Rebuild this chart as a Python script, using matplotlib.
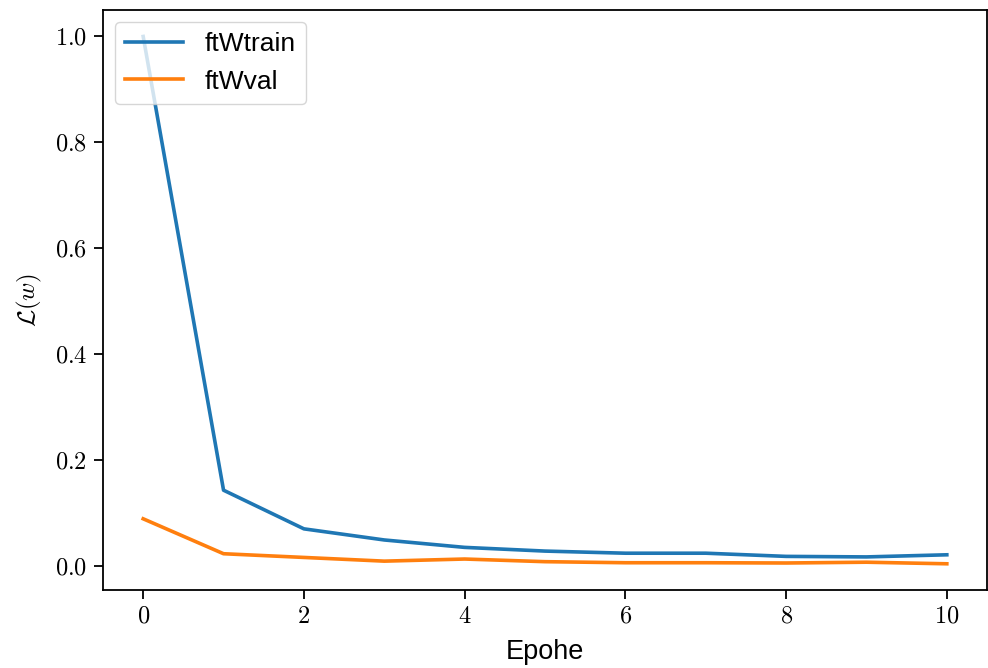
import matplotlib
matplotlib.use("Agg")
import matplotlib.pyplot as plt
from matplotlib.ticker import FuncFormatter

epochs = [0, 1, 2, 3, 4, 5, 6, 7, 8, 9, 10]
ft_w_train = [1.0, 0.143, 0.070, 0.049, 0.035, 0.028, 0.024, 0.024, 0.018, 0.017, 0.021]
ft_w_val = [0.089, 0.023, 0.016, 0.009, 0.013, 0.008, 0.006, 0.006, 0.0055, 0.007, 0.004]

plt.rcParams['mathtext.fontset'] = 'cm'
plt.rcParams['font.family'] = ['Liberation Sans', 'DejaVu Sans']

fig = plt.figure(figsize=(9.88, 6.68), dpi=100)
ax = fig.add_axes([103/988, 1 - 590/668, (987-103)/988, (590-10)/668])

ax.plot(epochs, ft_w_train, color='#1f77b4', lw=2.6, label='ftWtrain')
ax.plot(epochs, ft_w_val, color='#ff7f0e', lw=2.6, label='ftWval')

ax.xaxis.set_major_formatter(FuncFormatter(lambda v, p: f'${v:.0f}$'))
ax.yaxis.set_major_formatter(FuncFormatter(lambda v, p: f'${v:.1f}$'))
ax.set_xticks([0, 2, 4, 6, 8, 10])
ax.set_yticks([0.0, 0.2, 0.4, 0.6, 0.8, 1.0])
ax.set_xlim(-0.5, 10.5)
ax.set_ylim(-0.0455, 1.05)
ax.tick_params(labelsize=17.5, width=1.3, length=6.5, pad=5)
for s in ax.spines.values():
    s.set_linewidth(1.3)

ax.set_xlabel('Epohe', fontsize=19.5, labelpad=8)
ax.set_ylabel(r'$\mathcal{L}(w)$', fontsize=18, labelpad=8)
ax.legend(loc='upper left', fontsize=19, handlelength=2.2, borderaxespad=0.45)

fig.savefig('out.png', dpi=100)
